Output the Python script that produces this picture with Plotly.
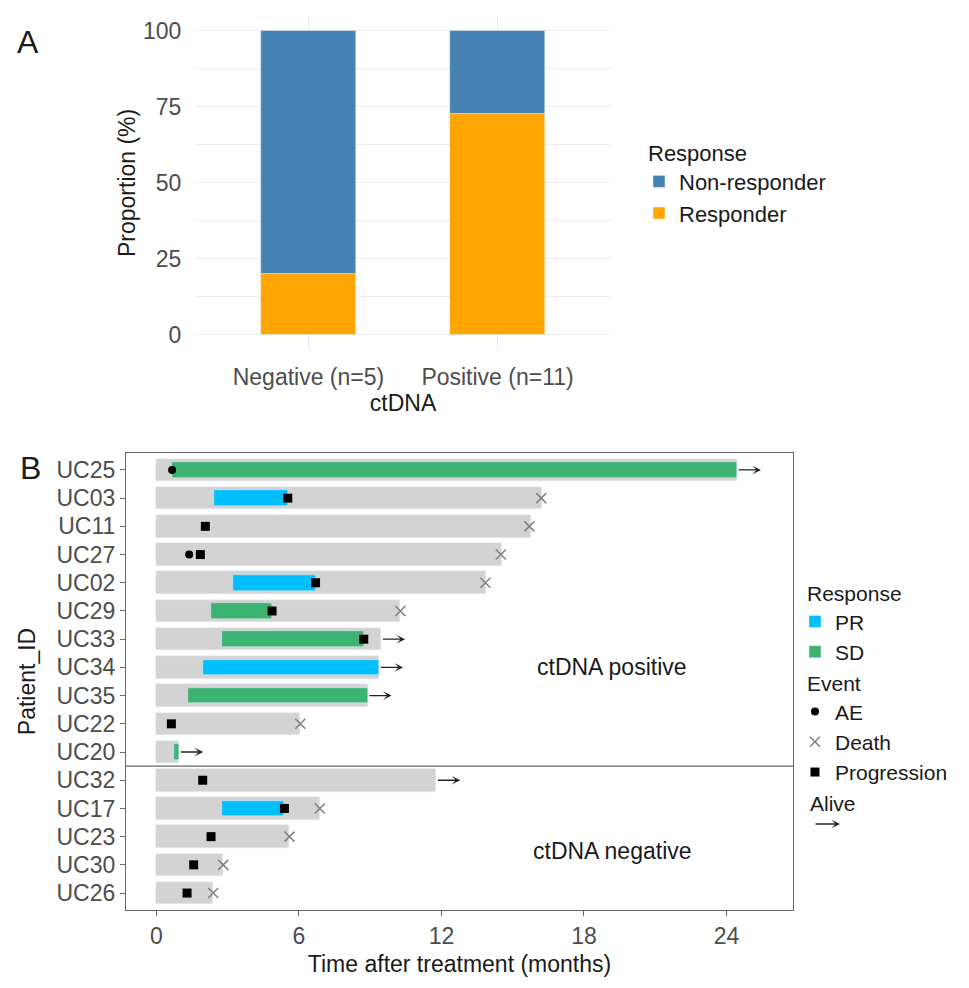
import plotly.graph_objects as go

# panel A: response proportion by ctDNA status
ctdna_groups = ["Negative (n=5)", "Positive (n=11)"]
responder_pct = [20.0, 72.7]
nonresponder_pct = [80.0, 27.3]

# panel B: swimmer plot, one row per patient (top to bottom)
patients = ["UC25", "UC03", "UC11", "UC27", "UC02", "UC29", "UC33", "UC34",
            "UC35", "UC22", "UC20", "UC32", "UC17", "UC23", "UC30", "UC26"]
ctdna_status = ["positive", "positive", "positive", "positive", "positive",
                "positive", "positive", "positive", "positive", "positive",
                "positive", "negative", "negative", "negative", "negative",
                "negative"]
followup_months = [24.45, 16.23, 15.75, 14.53, 13.88, 10.27, 9.47, 9.38,
                   8.90, 6.06, 0.97, 11.79, 6.88, 5.60, 2.81, 2.39]
response = ["SD", "PR", None, None, "PR", "SD", "SD", "PR",
            "SD", None, "SD", None, "PR", None, None, None]
response_start = [0.66, 2.41, None, None, 3.21, 2.30, 2.78, 1.97,
                  1.32, None, 0.76, None, 2.78, None, None, None]
response_end = [24.45, 5.53, None, None, 6.70, 4.87, 8.73, 9.36,
                8.90, None, 0.97, None, 5.39, None, None, None]
ae_time = [0.66, None, None, 1.38, None, None, None, None,
           None, None, None, None, None, None, None, None]
death_time = [None, 16.20, 15.70, 14.50, 13.85, 10.27, None, None,
              None, 6.06, None, None, 6.88, 5.60, 2.81, 2.39]
progression_time = [None, 5.53, 2.06, 1.85, 6.70, 4.87, 8.73, None,
                    None, 0.63, None, 1.95, 5.39, 2.30, 1.57, 1.29]
alive = [True, False, False, False, False, False, True, True,
         True, False, True, True, False, False, False, False]

FONT = "Liberation Sans, Arial, Helvetica, sans-serif"
TICK = "#4d4d4d"
BORDER = "#666666"
FS = 23
response_colors = {"PR": "#00BFFF", "SD": "#3CB371"}
arrow_len = 1.0

rows = list(range(len(patients)))

fig = go.Figure()

# ---- panel A
fig.add_trace(go.Bar(x=ctdna_groups, y=responder_pct, name="Responder",
                     marker_color="#FFA500", width=0.5, legend="legend",
                     xaxis="x", yaxis="y"))
fig.add_trace(go.Bar(x=ctdna_groups, y=nonresponder_pct, base=responder_pct,
                     name="Non-responder", marker_color="#4682B4", width=0.5,
                     legend="legend", xaxis="x", yaxis="y"))

# ---- panel B
fig.add_trace(go.Bar(y=rows, x=followup_months, orientation="h", width=0.8,
                     marker_color="#D3D3D3", showlegend=False,
                     xaxis="x2", yaxis="y2"))

for resp in ["PR", "SD"]:
    idx = [i for i in rows if response[i] == resp]
    fig.add_trace(go.Bar(
        y=[rows[i] for i in idx],
        base=[response_start[i] for i in idx],
        x=[response_end[i] - response_start[i] for i in idx],
        orientation="h", width=0.55, name=resp,
        marker_color=response_colors[resp], legend="legend2",
        xaxis="x2", yaxis="y2"))

def event_trace(times, name, marker):
    idx = [i for i in rows if times[i] is not None]
    return go.Scatter(x=[times[i] for i in idx], y=[rows[i] for i in idx],
                      mode="markers", name=name, marker=marker,
                      legend="legend3", xaxis="x2", yaxis="y2")

fig.add_trace(event_trace(ae_time, "AE",
                          dict(symbol="circle", size=8, color="black")))
fig.add_trace(event_trace(death_time, "Death",
                          dict(symbol="x-thin", size=10, color="#808080",
                               line=dict(width=1.5, color="#808080"))))
fig.add_trace(event_trace(progression_time, "Progression",
                          dict(symbol="square", size=9, color="black")))

annotations = []
for i in rows:
    if alive[i]:
        annotations.append(dict(
            x=followup_months[i] + arrow_len, y=rows[i], xref="x2", yref="y2",
            ax=followup_months[i], ay=rows[i], axref="x2", ayref="y2",
            text="", showarrow=True, arrowhead=3, arrowsize=1.1,
            arrowwidth=1.3, arrowcolor="#222222"))

n_pos = ctdna_status.count("positive")
n_rows = len(patients)
annotations.append(dict(x=19.2, y=(n_pos - 1) / 2 + 2, xref="x2", yref="y2",
                        text="ctDNA positive", showarrow=False,
                        font=dict(size=FS, color="#1a1a1a")))
annotations.append(dict(x=19.2, y=(n_pos + n_rows - 1) / 2 + 0.5,
                        xref="x2", yref="y2", text="ctDNA negative",
                        showarrow=False, font=dict(size=FS, color="#1a1a1a")))

# panel letters
annotations.append(dict(x=28 / 969, y=1 - 42 / 988, xref="paper", yref="paper",
                        xanchor="center", yanchor="middle",
                        text="A", showarrow=False, font=dict(size=32)))
annotations.append(dict(x=30 / 969, y=1 - 468 / 988, xref="paper", yref="paper",
                        xanchor="center", yanchor="middle",
                        text="B", showarrow=False, font=dict(size=32)))

# "Alive" legend block
annotations.append(dict(x=808 / 969, y=1 - 803 / 988, xref="paper", yref="paper",
                        text="Alive", showarrow=False, xanchor="left",
                        yanchor="middle", font=dict(size=21, color="#1a1a1a")))
annotations.append(dict(x=840 / 969, y=1 - 824 / 988, xref="paper", yref="paper",
                        ax=-26, ay=0, text="", showarrow=True, arrowhead=3,
                        arrowsize=1.1, arrowwidth=1.3, arrowcolor="#222222"))

fig.update_layout(
    width=969, height=988,
    margin=dict(l=0, r=0, t=0, b=0),
    paper_bgcolor="white", plot_bgcolor="white",
    font=dict(family=FONT, size=FS, color="#1a1a1a"),
    barmode="overlay",
    bargap=0,
    xaxis=dict(domain=[195 / 969, 611 / 969], range=[-0.6, 1.6],
               showgrid=True, gridcolor="#EBEBEB", gridwidth=1.2,
               ticks="outside", ticklen=6, tickcolor="rgba(0,0,0,0)",
               tickfont=dict(size=FS, color=TICK),
               title=dict(text="ctDNA", standoff=6, font=dict(size=FS)),
               zeroline=False, showline=False, anchor="y"),
    yaxis=dict(domain=[1 - 350 / 988, 1 - 15.8 / 988], range=[-5, 105],
               tickvals=[0, 25, 50, 75, 100],
               showgrid=True, gridcolor="#EBEBEB", gridwidth=1.2,
               minor=dict(dtick=12.5, showgrid=True, gridcolor="#EBEBEB",
                          gridwidth=0.6),
               ticks="outside", ticklen=8, tickcolor="rgba(0,0,0,0)",
               tickfont=dict(size=FS, color=TICK),
               title=dict(text="Proportion (%)", standoff=0, font=dict(size=FS)),
               zeroline=False, showline=False, anchor="x"),
    xaxis2=dict(domain=[126 / 969, 793 / 969], range=[-1.28, 26.8],
                tickvals=[0, 6, 12, 18, 24], showgrid=False, zeroline=False,
                showline=True, mirror=True, linecolor=BORDER, linewidth=1.2,
                ticks="outside", ticklen=5, tickcolor=BORDER,
                tickfont=dict(size=FS, color=TICK),
                title=dict(text="Time after treatment (months)", standoff=8,
                           font=dict(size=FS)),
                anchor="y2"),
    yaxis2=dict(domain=[1 - 910 / 988, 1 - 453 / 988], range=[15.6, -0.6],
                tickvals=rows, ticktext=patients, showgrid=False,
                zeroline=False, showline=True, mirror=True, linecolor=BORDER,
                linewidth=1.2, ticks="outside", ticklen=5, tickcolor=BORDER,
                tickfont=dict(size=FS, color=TICK),
                title=dict(text="Patient_ID", standoff=14, font=dict(size=FS)),
                anchor="x2"),
    legend=dict(x=646 / 969, y=1 - 132 / 988, xanchor="left", yanchor="top",
                traceorder="reversed", indentation=-7,
                title=dict(text="Response", font=dict(size=22)),
                font=dict(size=22), bgcolor="rgba(0,0,0,0)"),
    legend2=dict(x=805 / 969, y=1 - 574 / 988, xanchor="left", yanchor="top",
                 indentation=-10,
                 title=dict(text="Response", font=dict(size=21)),
                 font=dict(size=21), bgcolor="rgba(0,0,0,0)"),
    legend3=dict(x=805 / 969, y=1 - 664 / 988, xanchor="left", yanchor="top",
                 indentation=-10,
                 title=dict(text="Event", font=dict(size=21)),
                 font=dict(size=21), bgcolor="rgba(0,0,0,0)"),
    shapes=[dict(type="line", xref="x2 domain", x0=0, x1=1, yref="y2",
                 y0=n_pos - 0.5, y1=n_pos - 0.5,
                 line=dict(color=BORDER, width=1.2))],
    annotations=annotations,
)

fig.write_html("out.html", config={"displayModeBar": False},
               post_script="document.body.style.margin='0px';")
